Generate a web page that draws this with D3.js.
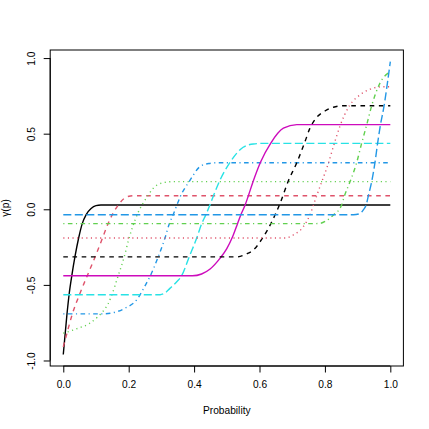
<!DOCTYPE html>
<html>
<head>
<meta charset="utf-8">
<script src="https://cdn.jsdelivr.net/npm/d3@7"></script>
<style>
  html, body { margin: 0; padding: 0; background: #ffffff; }
  svg { display: block; }
  text { font-family: "Liberation Sans", Arial, Helvetica, sans-serif; fill: #000; }
</style>
</head>
<body>
<svg id="chart" width="429" height="429"></svg>
<script>
// ---- data ----
const xTicks = [0, 0.2, 0.4, 0.6, 0.8, 1.0];
const xTickLabels = ["0.0", "0.2", "0.4", "0.6", "0.8", "1.0"];
const yTicks = [-1.0, -0.5, 0.0, 0.5, 1.0];
const yTickLabels = ["-1.0", "-0.5", "0.0", "0.5", "1.0"];
const xLabel = "Probability";
const yLabel = "γ(p)";

// each curve: [probability, gamma]
const curve1 = [[0,-0.96],[0.011,-0.70],[0.018,-0.56],[0.026,-0.44],[0.036,-0.31],[0.047,-0.19],[0.058,-0.095],[0.07,-0.035],[0.085,0.005],[0.1,0.024],[0.115,0.028],[1,0.028]];
const curve2 = [[0,-0.91],[0.01,-0.83],[0.028,-0.69],[0.049,-0.567],[0.073,-0.441],[0.097,-0.317],[0.12,-0.19],[0.136,-0.1],[0.15,-0.035],[0.167,0.025],[0.185,0.07],[0.205,0.088],[0.225,0.09],[1,0.09]];
const curve3 = [[0,-0.82],[0.045,-0.787],[0.08,-0.755],[0.106,-0.71],[0.125,-0.665],[0.137,-0.625],[0.147,-0.575],[0.167,-0.445],[0.186,-0.317],[0.2,-0.2],[0.213,-0.11],[0.228,-0.025],[0.244,0.04],[0.26,0.095],[0.275,0.139],[0.306,0.176],[0.336,0.183],[1,0.183]];
const curve4 = [[0,-0.692],[0.12,-0.692],[0.15,-0.685],[0.188,-0.655],[0.228,-0.589],[0.249,-0.51],[0.266,-0.441],[0.29,-0.316],[0.311,-0.19],[0.324,-0.097],[0.336,-0.036],[0.347,0.026],[0.358,0.085],[0.385,0.183],[0.418,0.282],[0.445,0.303],[0.474,0.308],[1,0.308]];
const curve5 = [[0,-0.565],[0.296,-0.565],[0.31,-0.555],[0.326,-0.523],[0.347,-0.479],[0.362,-0.439],[0.385,-0.315],[0.408,-0.19],[0.423,-0.097],[0.436,-0.036],[0.448,0.026],[0.459,0.088],[0.477,0.183],[0.51,0.311],[0.53,0.37],[0.55,0.41],[0.581,0.432],[0.612,0.436],[1,0.436]];
const curve6 = [[0,-0.44],[0.395,-0.44],[0.423,-0.428],[0.449,-0.395],[0.479,-0.325],[0.5,-0.26],[0.518,-0.18],[0.532,-0.1],[0.543,-0.036],[0.556,0.028],[0.566,0.09],[0.581,0.187],[0.603,0.311],[0.634,0.436],[0.673,0.536],[0.714,0.56],[1,0.56]];
const curve7 = [[0,-0.315],[0.53,-0.315],[0.561,-0.295],[0.581,-0.27],[0.607,-0.198],[0.637,-0.085],[0.663,0.04],[0.688,0.187],[0.714,0.308],[0.739,0.447],[0.754,0.535],[0.772,0.6],[0.8,0.65],[0.826,0.675],[0.856,0.685],[1,0.685]];
const curve8 = [[0,-0.19],[0.68,-0.19],[0.703,-0.17],[0.734,-0.115],[0.754,-0.038],[0.765,0.028],[0.775,0.09],[0.79,0.18],[0.81,0.3],[0.828,0.43],[0.846,0.55],[0.875,0.685],[0.907,0.756],[0.938,0.794],[0.974,0.81],[1,0.81]];
const curve9 = [[0,-0.095],[0.765,-0.095],[0.785,-0.093],[0.805,-0.075],[0.826,-0.038],[0.851,0.028],[0.86,0.09],[0.877,0.183],[0.897,0.308],[0.912,0.434],[0.928,0.56],[0.943,0.685],[0.968,0.833],[1,0.91]];
const curve10 = [[0,-0.036],[0.887,-0.036],[0.907,-0.029],[0.917,-0.005],[0.926,0.028],[0.933,0.09],[0.943,0.183],[0.953,0.308],[0.961,0.434],[0.97,0.56],[0.981,0.685],[0.991,0.833],[1,0.976]];

const curves = [curve1, curve2, curve3, curve4, curve5, curve6, curve7, curve8, curve9, curve10];
const colors = ["#000000", "#DF536B", "#61D04F", "#2297E6", "#28E2E5", "#CD0BBC", "#000000", "#DF536B", "#61D04F", "#2297E6"];
const ltys = ["solid", "dashed", "dotted", "dotdash", "longdash", "solid", "dashed", "dotted", "dotdash", "longdash"];

// ---- layout ----
const box = { left: 50.2, right: 403.4, top: 50, bottom: 366 };
const dataX = [0, 1];
const dataY = [-0.959, 0.976];
const ext = (d) => { const r = d[1] - d[0]; return [d[0] - 0.04 * r, d[1] + 0.04 * r]; };

const x = d3.scaleLinear().domain(ext(dataX)).range([box.left, box.right]);
const y = d3.scaleLinear().domain(ext(dataY)).range([box.bottom, box.top]);

const svg = d3.select("#chart");
const fontSize = 10.2;
const lw = 1.4;
const u = 1.15;
const dashes = {
  solid: null,
  dashed: [4*u, 4*u].join(","),
  dotted: [1*u, 3*u].join(","),
  dotdash: [1*u, 3*u, 4*u, 3*u].join(","),
  longdash: [7*u, 3*u].join(",")
};

// curves
const line = d3.line().x(d => x(d[0])).y(d => y(d[1])).curve(d3.curveMonotoneX);
const gCurves = svg.append("g");
curves.forEach((c, i) => {
  gCurves.append("path")
    .attr("d", line(c))
    .attr("fill", "none")
    .attr("stroke", colors[i])
    .attr("stroke-width", lw)
    .attr("stroke-dasharray", dashes[ltys[i]])
    .attr("stroke-linecap", "butt");
});

// box
svg.append("rect")
  .attr("x", box.left).attr("y", box.top)
  .attr("width", box.right - box.left).attr("height", box.bottom - box.top)
  .attr("fill", "none").attr("stroke", "#000").attr("stroke-width", 1);

// x axis
const xAxis = d3.axisBottom(x).tickValues(xTicks).tickFormat((d, i) => xTickLabels[i]).tickSize(6.5).tickPadding(3);
const gx = svg.append("g").attr("transform", `translate(0,${box.bottom})`).call(xAxis);
gx.select(".domain").attr("d", `M${x(xTicks[0])},0H${x(xTicks[xTicks.length-1])}`).attr("stroke", "#000");
gx.selectAll(".tick line").attr("stroke", "#000");
gx.selectAll(".tick text").attr("font-size", fontSize).attr("font-family", "Liberation Sans, Arial, sans-serif")
  .attr("y", 22.3).attr("dy", null);

// y axis
const yAxis = d3.axisLeft(y).tickValues(yTicks).tickFormat((d, i) => yTickLabels[i]).tickSize(6.5);
const gy = svg.append("g").attr("transform", `translate(${box.left},0)`).call(yAxis);
gy.select(".domain").attr("d", `M0,${y(yTicks[0])}V${y(yTicks[yTicks.length-1])}`).attr("stroke", "#000");
gy.selectAll(".tick line").attr("stroke", "#000");
gy.selectAll(".tick text").attr("font-size", fontSize).attr("font-family", "Liberation Sans, Arial, sans-serif")
  .attr("x", null).attr("dy", null).attr("text-anchor", "middle")
  .attr("transform", `translate(${35.2 - box.left},0) rotate(-90)`);

// axis titles
svg.append("text").attr("x", (x(0) + x(1)) / 2).attr("y", 413.5)
  .attr("text-anchor", "middle").attr("font-size", fontSize).text(xLabel);
svg.append("text").attr("transform", `translate(8.5,${(box.top + box.bottom) / 2}) rotate(-90)`)
  .attr("text-anchor", "middle").attr("font-size", fontSize).text(yLabel);
</script>
</body>
</html>
